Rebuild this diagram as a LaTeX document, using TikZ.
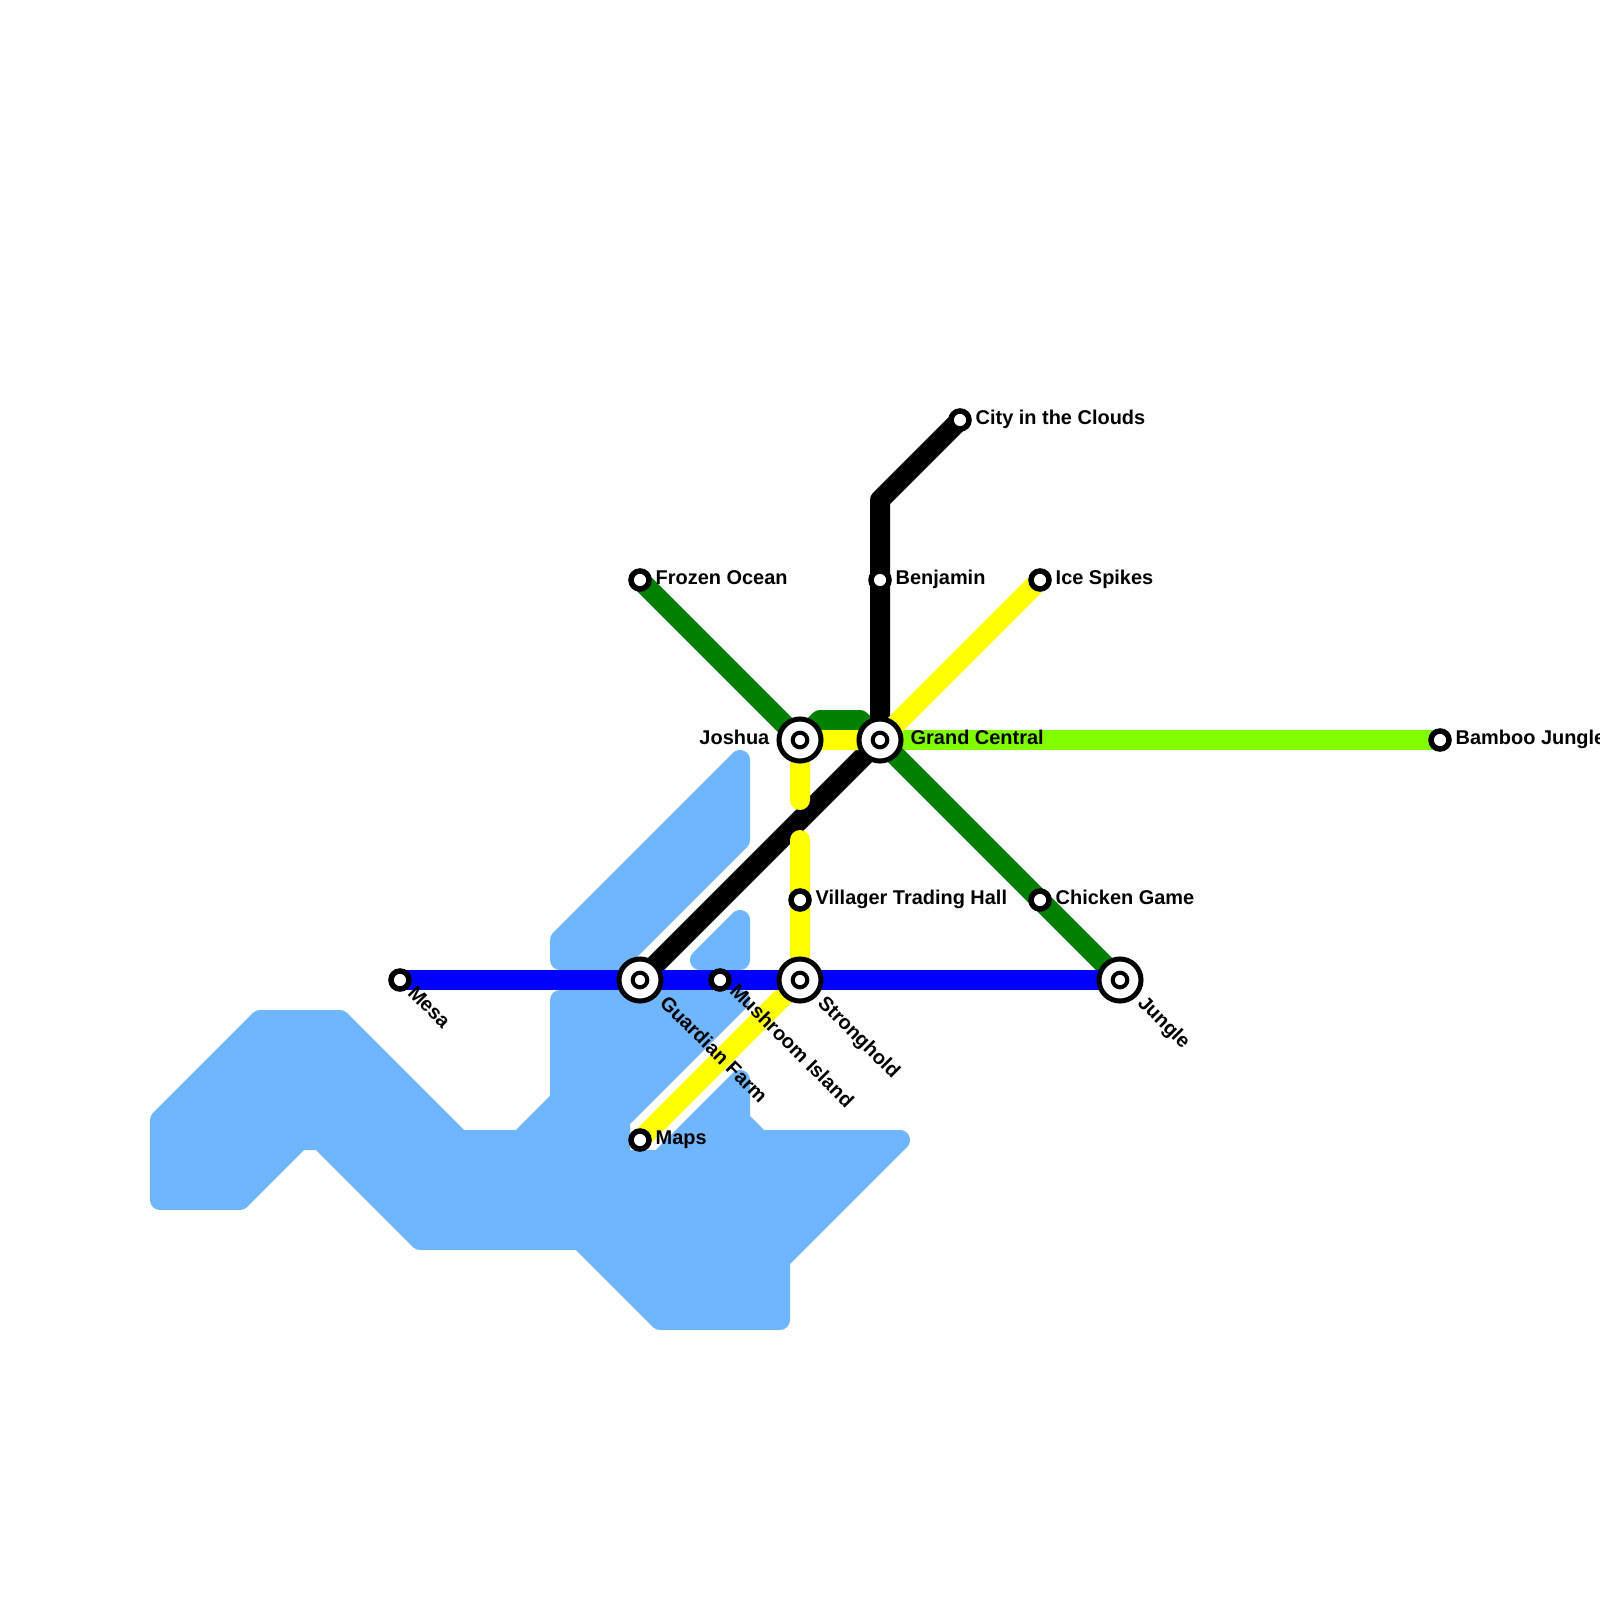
\documentclass[tikz,border=0pt]{standalone}
\usepackage{fontspec}
\setmainfont{Liberation Sans}
\usetikzlibrary{backgrounds}

\begin{document}
\begin{tikzpicture}[x=0.01cm, y=-0.01cm,
      water/.style={fill=waterblue, draw=waterblue, line width=0.2cm, line join=round},
      route/.style={line width=0.2cm, line cap=round, line join=round},
      stop/.style={draw, circle, fill=white, line width=0.055cm, minimum size=0.18cm, inner sep=0},
      hub/.style={draw, circle, fill=white, line width=0.05cm, minimum size=0.42cm, inner sep=0,
        path picture={\draw[line width=0.04cm] (path picture bounding box.center) circle (0.073cm);}},
      plainname/.style={font=\bfseries\fontsize{5.67}{6.8}\selectfont, inner sep=0, text height=0.143cm, text depth=0.042cm},
      slantname/.style={plainname, rotate=-45, anchor=west}]
      \definecolor{waterblue}{RGB}{112,182,255}
      \definecolor{lime}{RGB}{127,255,0}
      \definecolor{darkgreen}{RGB}{0,128,0}
      \definecolor{sunyellow}{RGB}{255,255,0}
      \useasboundingbox (0,0) rectangle (1600,1600);

      \node (mesa) [stop] at (400,980) {};
      \node (guardian) [hub] at (640,980) {};
      \node (mushroom) [stop] at (720,980) {};
      \node (stronghold) [hub] at (800,980) {};
      \node (jungle) [hub] at (1120,980) {};
      \node (joshua) [hub] at (800,740) {};
      \node (central) [hub] at (880,740) {};
      \node (bamboo) [stop] at (1440,740) {};
      \node (frozen) [stop] at (640,580) {};
      \node (benjamin) [stop] at (880,580) {};
      \node (spikes) [stop] at (1040,580) {};
      \node (clouds) [stop] at (960,420) {};
      \node (villager) [stop] at (800,900) {};
      \node (chicken) [stop] at (1040,900) {};
      \node (maps) [stop] at (640,1140) {};

      \coordinate (bumpleft) at (820,720);
      \coordinate (bumpright) at (860,720);
      \coordinate (cloudbend) at (880,500);
      \coordinate (yellowstop) at (800,800);
      \coordinate (yellowstart) at (800,840);

      \begin{scope}[on background layer]
        \draw[water] (160,1120) -- (260,1020) -- (340,1020) -- (460,1140) -- (520,1140)
          -- (560,1100) -- (560,1000) -- (740,1000) -- (620,1120) -- (620,1160) -- (660,1160)
          -- (740,1080) -- (740,1120) -- (760,1140) -- (900,1140) -- (780,1260) -- (780,1320)
          -- (660,1320) -- (580,1240) -- (420,1240) -- (320,1140) -- (300,1140) -- (240,1200)
          -- (160,1200) -- cycle;
        \draw[water] (560,940) -- (740,760) -- (740,840) -- (620,960) -- (560,960) -- cycle;
        \draw[water] (700,960) -- (740,920) -- (740,960) -- cycle;

        \draw[route, lime] (central.center) -- (bamboo.center);
        \draw[route, darkgreen] (frozen.center) -- (joshua.center) -- (bumpleft) -- (bumpright)
          -- (central.center) -- (chicken.center) -- (jungle.center);
        \draw[route, black] (clouds.center) -- (cloudbend) -- (benjamin.center) -- (central.center)
          -- (guardian.center);
        \draw[route, sunyellow] (spikes.center) -- (central.center) -- (joshua.center) -- (yellowstop);
        \draw[route, sunyellow] (yellowstart) -- (villager.center) -- (stronghold.center) -- (maps.center);
        \draw[route, blue] (mesa.center) -- (guardian.center) -- (mushroom.center)
          -- (stronghold.center) -- (jungle.center);
      \end{scope}

      \node (mesalabel) [slantname] at (410,990) {Mesa};
      \node (guardianlabel) [slantname] at (662,1000) {Guardian Farm};
      \node (mushroomlabel) [slantname] at (732,988) {Mushroom Island};
      \node (strongholdlabel) [slantname] at (820,1000) {Stronghold};
      \node (junglelabel) [slantname] at (1140,1000) {Jungle};
      \node (joshualabel) [plainname, anchor=east] at (770,739) {Joshua};
      \node (centrallabel) [plainname, anchor=west] at (910,739) {Grand Central};
      \node (bamboolabel) [plainname, anchor=west] at (1455,739) {Bamboo Jungle};
      \node (frozenlabel) [plainname, anchor=west] at (655,579) {Frozen Ocean};
      \node (benjaminlabel) [plainname, anchor=west] at (895,579) {Benjamin};
      \node (spikeslabel) [plainname, anchor=west] at (1055,579) {Ice Spikes};
      \node (cloudslabel) [plainname, anchor=west] at (975,419) {City in the Clouds};
      \node (villagerlabel) [plainname, anchor=west] at (815,899) {Villager Trading Hall};
      \node (chickenlabel) [plainname, anchor=west] at (1055,899) {Chicken Game};
      \node (mapslabel) [plainname, anchor=west] at (655,1139) {Maps};
    \end{tikzpicture}
\end{document}
